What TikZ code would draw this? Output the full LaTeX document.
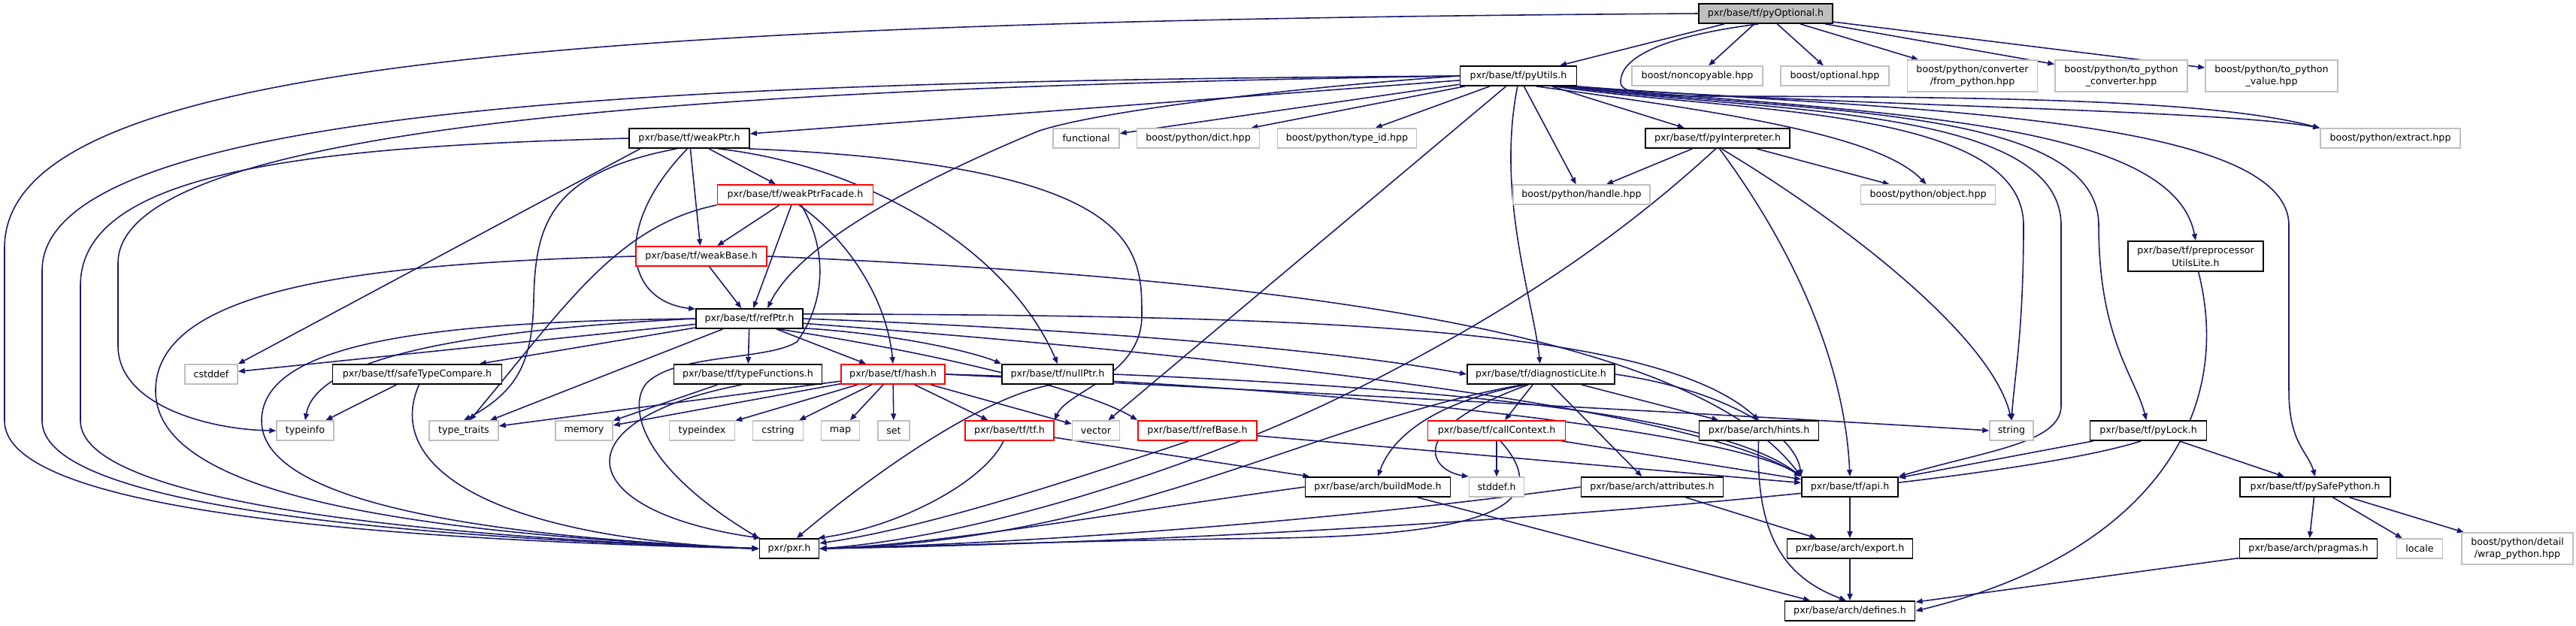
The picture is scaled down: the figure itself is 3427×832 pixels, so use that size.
\documentclass[tikz,border=0pt]{standalone}
\usepackage{fontspec}
\setmainfont{DejaVu Sans}
\usetikzlibrary{arrows.meta, backgrounds}

\definecolor{edgeblue}{RGB}{25,25,112}
\definecolor{sysgray}{RGB}{191,191,191}

\begin{document}
\begin{tikzpicture}[
    x=0.01cm, y=-0.01cm,
    every node/.style={font=\fontsize{3.6pt}{4.7pt}\selectfont, align=center},
    file/.style={draw=black, fill=white, line width=0.5pt, minimum height=0.26cm, inner sep=0pt},
    trunc/.style={file, draw=red},
    sys/.style={file, draw=sysgray, line width=0.4pt},
    sys2/.style={sys, minimum height=0.42cm},
    root/.style={file, fill=sysgray},
    dep/.style={draw=edgeblue, line width=0.45pt, -{Triangle[length=0.9mm, width=0.7mm]}},
]
\useasboundingbox (0,0) rectangle (3427,832);

% ── headers, row by row ─────────────────────────────────────────────────────
\node[root, minimum width=1.78cm] (pyOptional) at (2349,18) {pxr/base/tf/pyOptional.h};

\node[file, minimum width=1.55cm] (pyUtils) at (2020,101) {pxr/base/tf/pyUtils.h};
\node[sys, minimum width=1.74cm] (noncopyable) at (2258,101) {boost/noncopyable.hpp};
\node[sys, minimum width=1.44cm] (optional) at (2441,101) {boost/optional.hpp};
\node[sys2, minimum width=1.73cm] (fromPython) at (2624,101) {boost/python/converter\\/from\_python.hpp};
\node[sys2, minimum width=1.76cm] (toPyConverter) at (2822,101) {boost/python/to\_python\\\_converter.hpp};
\node[sys2, minimum width=1.76cm] (toPyValue) at (3022,101) {boost/python/to\_python\\\_value.hpp};

\node[file, minimum width=1.60cm] (weakPtr) at (917,184) {pxr/base/tf/weakPtr.h};
\node[sys, minimum width=0.88cm] (functional) at (1445,184) {functional};
\node[sys, minimum width=1.63cm] (dict) at (1594,184) {boost/python/dict.hpp};
\node[sys, minimum width=1.85cm] (typeId) at (1792,184) {boost/python/type\_id.hpp};
\node[file, minimum width=1.92cm] (pyInterpreter) at (2285,184) {pxr/base/tf/pyInterpreter.h};
\node[sys, minimum width=1.86cm] (extract) at (3180,184) {boost/python/extract.hpp};

\node[trunc, minimum width=2.07cm] (weakPtrFacade) at (1058,259) {pxr/base/tf/weakPtrFacade.h};
\node[sys, minimum width=1.82cm] (handle) at (2104,259) {boost/python/handle.hpp};
\node[sys, minimum width=1.79cm] (object) at (2565,259) {boost/python/object.hpp};

\node[trunc, minimum width=1.74cm] (weakBase) at (933,341) {pxr/base/tf/weakBase.h};
\node[file, minimum width=1.80cm, minimum height=0.40cm] (preprocessorUtilsLite) at (2921,341) {pxr/base/tf/preprocessor\\UtilsLite.h};

\node[file, minimum width=1.42cm] (refPtr) at (997,424) {pxr/base/tf/refPtr.h};

\node[sys, minimum width=0.70cm] (cstddef) at (281,498) {cstddef};
\node[file, minimum width=2.25cm] (safeTypeCompare) at (555,498) {pxr/base/tf/safeTypeCompare.h};
\node[file, minimum width=1.97cm] (typeFunctions) at (995,498) {pxr/base/tf/typeFunctions.h};
\node[trunc, minimum width=1.38cm] (hash) at (1188,498) {pxr/base/tf/hash.h};
\node[file, minimum width=1.48cm] (nullPtr) at (1407,498) {pxr/base/tf/nullPtr.h};
\node[file, minimum width=1.96cm] (diagnosticLite) at (2050,498) {pxr/base/tf/diagnosticLite.h};

\node[sys, minimum width=0.76cm] (typeinfo) at (406,573) {typeinfo};
\node[sys, minimum width=0.92cm] (typeTraits) at (617,573) {type\_traits};
\node[sys, minimum width=0.76cm] (memory) at (777,573) {memory};
\node[sys, minimum width=0.87cm] (typeindex) at (934,573) {typeindex};
\node[sys, minimum width=0.67cm] (cstring) at (1035,573) {cstring};
\node[sys, minimum width=0.51cm] (map) at (1118,573) {map};
\node[sys, minimum width=0.42cm] (set) at (1189,573) {set};
\node[trunc, minimum width=1.18cm] (tfh) at (1343,573) {pxr/base/tf/tf.h};
\node[sys, minimum width=0.63cm] (vector) at (1458,573) {vector};
\node[trunc, minimum width=1.58cm] (refBase) at (1593,573) {pxr/base/tf/refBase.h};
\node[trunc, minimum width=1.83cm] (callContext) at (1991,573) {pxr/base/tf/callContext.h};
\node[file, minimum width=1.59cm] (hints) at (2340,573) {pxr/base/arch/hints.h};
\node[sys, minimum width=0.58cm] (string) at (2676,573) {string};
\node[file, minimum width=1.55cm] (pyLock) at (2858,573) {pxr/base/tf/pyLock.h};

\node[file, minimum width=1.93cm] (buildMode) at (1833,648) {pxr/base/arch/buildMode.h};
\node[sys, minimum width=0.73cm] (stddef) at (1991,648) {stddef.h};
\node[file, minimum width=1.89cm] (attributes) at (2198,648) {pxr/base/arch/attributes.h};
\node[file, minimum width=1.28cm] (api) at (2461,648) {pxr/base/tf/api.h};
\node[file, minimum width=2.00cm] (pySafePython) at (3080,648) {pxr/base/tf/pySafePython.h};

\node[file, minimum width=0.79cm] (pxr) at (1050,730) {pxr/pxr.h};
\node[file, minimum width=1.67cm] (export) at (2461,730) {pxr/base/arch/export.h};
\node[file, minimum width=1.83cm] (pragmas) at (3071,730) {pxr/base/arch/pragmas.h};
\node[sys, minimum width=0.61cm] (locale) at (3219,730) {locale};
\node[sys2, minimum width=1.48cm] (wrapPython) at (3349,730) {boost/python/detail\\/wrap\_python.hpp};

\node[file, minimum width=1.73cm] (defines) at (2461,813) {pxr/base/arch/defines.h};

\begin{pgfonlayer}{background}
% ── pyOptional.h ─────────────────────────────────────────────────────────────
\draw[dep] (pyOptional) -- (pyUtils);
\draw[dep] (pyOptional) -- (noncopyable);
\draw[dep] (pyOptional) -- (optional);
\draw[dep] (pyOptional) -- (fromPython);
\draw[dep] (pyOptional) -- (toPyConverter);
\draw[dep] (pyOptional) -- (toPyValue);
\draw[dep] (pyOptional.-125) .. controls (2200,50) and (2155,80) .. (2156,110) .. controls (2157,126) and (2200,128) .. (2300,128) .. controls (2700,129) and (2950,135) .. (extract.north west);
\draw[dep] (pyOptional.west) .. controls (700,28) and (6,90) .. (6,330) -- (6,560) .. controls (6,680) and (500,718) .. (pxr.west);

% ── pyUtils.h ────────────────────────────────────────────────────────────────
\draw[dep] (pyUtils.west) .. controls (1000,108) and (56,130) .. (56,360) -- (56,560) .. controls (56,670) and (500,714) .. (pxr.west);
\draw[dep] (pyUtils.west) .. controls (1100,115) and (157,150) .. (157,350) -- (157,460) .. controls (157,540) and (280,572) .. (typeinfo.west);
\draw[dep] (pyUtils) -- (weakPtr);
\draw[dep] (pyUtils.west) .. controls (1700,118) and (1450,150) .. (1380,175) .. controls (1200,250) and (1060,330) .. (refPtr.30);
\draw[dep] (pyUtils) -- (functional);
\draw[dep] (pyUtils) -- (dict);
\draw[dep] (pyUtils) -- (typeId);
\draw[dep] (pyUtils) -- (pyInterpreter);
\draw[dep] (pyUtils) -- (handle);
\draw[dep] (pyUtils.-30) .. controls (2300,150) and (2500,180) .. (object.100);
\draw[dep] (pyUtils) -- (vector);
\draw[dep] (pyUtils.-95) .. controls (1990,260) and (2040,400) .. (diagnosticLite.95);
\draw[dep] (pyUtils.-16) .. controls (2300,150) and (2692,140) .. (2692,300) .. controls (2692,440) and (2680,500) .. (string.north);
\draw[dep] (pyUtils.-14) .. controls (2350,150) and (2742,140) .. (2742,300) -- (2742,540) .. controls (2742,590) and (2640,600) .. (api.north east);
\draw[dep] (pyUtils.-13) .. controls (2400,150) and (2792,140) .. (2792,300) .. controls (2792,450) and (2840,500) .. (pyLock.100);
\draw[dep] (pyUtils.-12) .. controls (2500,150) and (2890,160) .. (preprocessorUtilsLite.north);
\draw[dep] (pyUtils.-10) .. controls (2400,140) and (2950,145) .. (extract.north west);
\draw[dep] (pyUtils.-11) .. controls (2500,145) and (3045,150) .. (3045,300) -- (3045,520) .. controls (3045,590) and (3070,600) .. (pySafePython.north);

% ── pyInterpreter.h ──────────────────────────────────────────────────────────
\draw[dep] (pyInterpreter) -- (handle);
\draw[dep] (pyInterpreter) -- (object);
\draw[dep] (pyInterpreter.-100) .. controls (2150,320) and (2000,420) .. (1800,520) .. controls (1600,620) and (1300,715) .. (pxr.east);
\draw[dep] (pyInterpreter.-80) .. controls (2400,350) and (2455,500) .. (api.north);
\draw[dep] (pyInterpreter.-70) .. controls (2460,300) and (2650,450) .. (string.north);

% ── weakPtr.h ────────────────────────────────────────────────────────────────
\draw[dep] (weakPtr.west) .. controls (400,195) and (107,230) .. (107,380) -- (107,560) .. controls (107,660) and (500,712) .. (pxr.west);
\draw[dep] (weakPtr.-168) -- (cstddef.north east);
\draw[dep] (weakPtr.-140) .. controls (730,230) and (712,300) .. (710,400) .. controls (708,480) and (690,520) .. (typeTraits.north);
\draw[dep] (weakPtr.-100) .. controls (815,300) and (830,400) .. (refPtr.170);
\draw[dep] (weakPtr) -- (weakBase);
\draw[dep] (weakPtr) -- (weakPtrFacade);
\draw[dep] (weakPtr.-20) .. controls (1150,220) and (1340,330) .. (nullPtr.north);
\draw[dep] (weakPtr.-10) .. controls (1519,220) and (1519,330) .. (1519,420) .. controls (1519,500) and (1420,520) .. (tfh.north east);

% ── weakPtrFacade.h ──────────────────────────────────────────────────────────
\draw[dep] (weakPtrFacade) -- (weakBase);
\draw[dep] (weakPtrFacade) -- (refPtr);
\draw[dep] (weakPtrFacade.-70) .. controls (1130,320) and (1180,400) .. (hash.north);
\draw[dep] (weakPtrFacade.south west) .. controls (820,300) and (750,410) .. (typeTraits.60);
\draw[dep] (weakPtrFacade.-60) .. controls (1100,330) and (1100,400) .. (1060,455) .. controls (1020,480) and (900,470) .. (860,510) .. controls (835,540) and (850,620) .. (pxr.north west);

% ── weakBase.h ───────────────────────────────────────────────────────────────
\draw[dep] (weakBase.west) .. controls (500,350) and (207,380) .. (207,520) .. controls (207,650) and (500,708) .. (pxr.west);
\draw[dep] (weakBase) -- (refPtr);
\draw[dep] (weakBase.east) .. controls (1700,370) and (2250,440) .. (api.north west);

% ── refPtr.h ─────────────────────────────────────────────────────────────────
\draw[dep] (refPtr.west) .. controls (600,428) and (348,450) .. (348,560) .. controls (348,660) and (600,712) .. (pxr.west);
\draw[dep] (refPtr.west) .. controls (600,440) and (420,480) .. (typeinfo.north);
\draw[dep] (refPtr) -- (cstddef);
\draw[dep] (refPtr) -- (safeTypeCompare);
\draw[dep] (refPtr) -- (typeTraits);
\draw[dep] (refPtr) -- (typeFunctions);
\draw[dep] (refPtr) -- (hash);
\draw[dep] (refPtr.-10) .. controls (1200,445) and (1300,470) .. (nullPtr.north west);
\draw[dep] (refPtr.-20) .. controls (1250,470) and (1450,520) .. (refBase.north west);
\draw[dep] (refPtr.east) .. controls (1500,440) and (1800,470) .. (diagnosticLite.west);
\draw[dep] (refPtr.5) .. controls (1700,420) and (2200,430) .. (hints.north);
\draw[dep] (refPtr.-5) .. controls (1600,470) and (2250,540) .. (api.north west);

% ── safeTypeCompare.h, typeFunctions.h ───────────────────────────────────────
\draw[dep] (safeTypeCompare) -- (typeinfo);
\draw[dep] (safeTypeCompare.-80) .. controls (510,620) and (650,715) .. (pxr.west);
\draw[dep] (typeFunctions) -- (memory);
\draw[dep] (typeFunctions.-120) .. controls (740,560) and (760,680) .. (pxr.160);

% ── hash.h ───────────────────────────────────────────────────────────────────
\draw[dep] (hash) -- (typeTraits);
\draw[dep] (hash) -- (memory);
\draw[dep] (hash) -- (typeindex);
\draw[dep] (hash) -- (cstring);
\draw[dep] (hash) -- (map);
\draw[dep] (hash) -- (set);
\draw[dep] (hash) -- (tfh);
\draw[dep] (hash) -- (vector);
\draw[dep] (hash.east) .. controls (1700,520) and (2450,560) .. (string.west);
\draw[dep] (hash.east) .. controls (1700,510) and (2300,570) .. (api.north west);

% ── nullPtr.h, diagnosticLite.h ──────────────────────────────────────────────
\draw[dep] (nullPtr.-120) .. controls (1300,530) and (1150,640) .. (pxr.55);
\draw[dep] (nullPtr.east) .. controls (2000,520) and (2300,560) .. (api.north west);
\draw[dep] (diagnosticLite.-150) .. controls (1750,560) and (1500,720) .. (pxr.east);
\draw[dep] (diagnosticLite.-145) .. controls (1880,540) and (1845,600) .. (buildMode.north);
\draw[dep] (diagnosticLite.-140) .. controls (1870,570) and (1900,625) .. (stddef.north west);
\draw[dep] (diagnosticLite) -- (callContext);
\draw[dep] (diagnosticLite) -- (attributes);
\draw[dep] (diagnosticLite) -- (hints);
\draw[dep] (diagnosticLite.east) .. controls (2300,520) and (2390,580) .. (api.north west);

% ── lower rows ───────────────────────────────────────────────────────────────
\draw[dep] (tfh.-120) .. controls (1310,640) and (1200,700) .. (pxr.20);
\draw[dep] (tfh) -- (buildMode);
\draw[dep] (refBase.-130) .. controls (1480,620) and (1250,700) .. (pxr.10);
\draw[dep] (refBase) -- (api);
\draw[dep] (callContext) -- (stddef);
\draw[dep] (callContext) -- (api);
\draw[dep] (callContext.-70) .. controls (2080,680) and (1950,712) .. (1700,716) .. controls (1400,720) and (1200,728) .. (pxr.east);
\draw[dep] (hints.-92) .. controls (2335,720) and (2380,770) .. (defines.110);
\draw[dep] (buildMode.west) .. controls (1500,680) and (1250,725) .. (pxr.east);
\draw[dep] (buildMode) -- (defines);
\draw[dep] (attributes.west) .. controls (1800,690) and (1400,722) .. (pxr.east);
\draw[dep] (attributes) -- (export);
\draw[dep] (api) -- (export);
\draw[dep] (export) -- (defines);
\draw[dep] (pyLock) -- (api);
\draw[dep] (pyLock.-125) .. controls (2650,650) and (1800,718) .. (pxr.east);
\draw[dep] (pyLock) -- (pySafePython);
\draw[dep] (pySafePython) -- (pragmas);
\draw[dep] (pySafePython) -- (locale);
\draw[dep] (pySafePython) -- (wrapPython);
\draw[dep] (pragmas) -- (defines);
\draw[dep] (preprocessorUtilsLite.-80) .. controls (2975,560) and (2850,740) .. (defines.east);
\end{pgfonlayer}

\end{tikzpicture}
\end{document}
